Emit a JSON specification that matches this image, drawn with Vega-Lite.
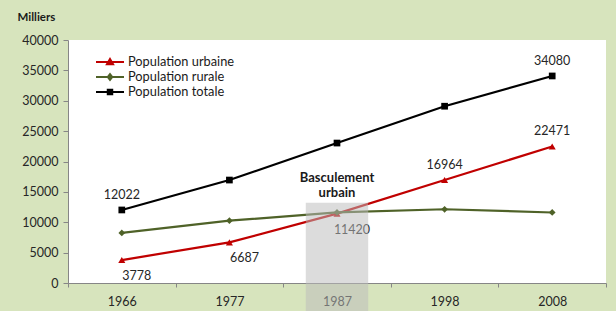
{
  "$schema": "https://vega.github.io/schema/vega-lite/v6.json",
  "width": 538,
  "height": 243,
  "autosize": "none",
  "padding": {"left": 68, "top": 40, "right": 10, "bottom": 28},
  "background": "#d7e4bd",
  "config": {
    "view": {"fill": "white", "stroke": null},
    "font": "Lato",
    "axis": {"labelFont": "Lato", "labelFontSize": 12.5, "labelColor": "#262626", "domainColor": "#868686", "tickColor": "#868686", "grid": false, "labelOverlap": false}
  },
  "datasets": {
    "pop": [
      {"year": "1966", "series": "Population urbaine", "value": 3778},
      {"year": "1977", "series": "Population urbaine", "value": 6687},
      {"year": "1987", "series": "Population urbaine", "value": 11420},
      {"year": "1998", "series": "Population urbaine", "value": 16964},
      {"year": "2008", "series": "Population urbaine", "value": 22471},
      {"year": "1966", "series": "Population rurale", "value": 8244},
      {"year": "1977", "series": "Population rurale", "value": 10261},
      {"year": "1987", "series": "Population rurale", "value": 11618},
      {"year": "1998", "series": "Population rurale", "value": 12136},
      {"year": "2008", "series": "Population rurale", "value": 11609},
      {"year": "1966", "series": "Population totale", "value": 12022},
      {"year": "1977", "series": "Population totale", "value": 16948},
      {"year": "1987", "series": "Population totale", "value": 23038},
      {"year": "1998", "series": "Population totale", "value": 29100},
      {"year": "2008", "series": "Population totale", "value": 34080}
    ],
    "zone": [
      {"year": "1987", "value": 13200, "bottom": -4700, "text": ["Basculement", "urbain"], "ty": 17300}
    ]
  },
  "encoding": {
    "x": {
      "field": "year", "type": "ordinal",
      "scale": {"paddingInner": 0, "paddingOuter": 0, "domain": ["1966", "1977", "1987", "1998", "2008"]},
      "axis": {"title": null, "labelAngle": 0, "tickBand": "extent", "tickSize": 4, "labelPadding": 8, "domainWidth": 1}
    },
    "y": {
      "field": "value", "type": "quantitative",
      "scale": {"domain": [0, 40000], "nice": false},
      "axis": {"values": [0, 5000, 10000, 15000, 20000, 25000, 30000, 35000, 40000], "format": "d", "tickSize": 5, "labelPadding": 5,
        "title": "Milliers", "titleAngle": 0, "titleAlign": "left", "titleBaseline": "middle", "titleX": -51, "titleY": -23,
        "titleFont": "Lato", "titleFontSize": 11.5, "titleFontWeight": "bold", "titleColor": "#1a1a1a"}
    }
  },
  "layer": [
    {
      "data": {"name": "pop"},
      "mark": {"type": "line", "strokeWidth": 2.2},
      "encoding": {
        "color": {
          "field": "series", "type": "nominal",
          "scale": {"domain": ["Population urbaine", "Population rurale", "Population totale"], "range": ["#c00000", "#4f6228", "#000000"]},
          "legend": {
            "title": null, "orient": "none", "legendX": 34, "legendY": 14,
            "labelFont": "Lato", "labelFontSize": 12.8, "labelColor": "#1a1a1a", "labelOffset": 10,
            "symbolSize": 196, "symbolStrokeWidth": 2, "rowPadding": 0,
            "encode": {
              "symbols": {
                "update": {
                  "shape": {"signal": "datum.value === 'Population urbaine' ? 'M-2,0H2M0,-0.44L0.44,0.32L-0.44,0.32Z' : datum.value === 'Population rurale' ? 'M-2,0H2M0,-0.4L0.32,0L0,0.4L-0.32,0Z' : 'M-2,0H2M-0.32,-0.32H0.32V0.32H-0.32Z'"},
                  "fill": {"scale": "color", "field": "value"},
                  "stroke": {"scale": "color", "field": "value"},
                  "strokeWidth": {"value": 2}
                }
              }
            }
          }
        }
      }
    },
    {
      "data": {"name": "pop"},
      "transform": [{"filter": "datum.series === 'Population urbaine'"}],
      "mark": {"type": "point", "filled": true, "opacity": 1, "size": 50, "shape": "triangle-up"},
      "encoding": {"color": {"field": "series", "type": "nominal"}}
    },
    {
      "data": {"name": "pop"},
      "transform": [{"filter": "datum.series === 'Population rurale'"}],
      "mark": {"type": "point", "filled": true, "opacity": 1, "size": 45, "shape": "diamond"},
      "encoding": {"color": {"field": "series", "type": "nominal"}}
    },
    {
      "data": {"name": "pop"},
      "transform": [{"filter": "datum.series === 'Population totale'"}],
      "mark": {"type": "point", "filled": true, "opacity": 1, "size": 45, "shape": "square"},
      "encoding": {"color": {"field": "series", "type": "nominal"}}
    },
    {
      "data": {"name": "pop"},
      "transform": [{"filter": "(datum.series === 'Population totale' && (datum.year === '1966' || datum.year === '2008')) || (datum.series === 'Population urbaine' && (datum.year === '1998' || datum.year === '2008'))"}],
      "mark": {"type": "text", "dy": -15, "fontSize": 12.5, "color": "#262626", "font": "Lato"},
      "encoding": {
        "text": {"field": "value", "type": "quantitative", "format": "d"}
      }
    },
    {
      "data": {"name": "pop"},
      "transform": [{"filter": "datum.series === 'Population urbaine' && (datum.year === '1966' || datum.year === '1977' || datum.year === '1987')"}],
      "mark": {"type": "text", "dx": 15, "dy": 16, "fontSize": 12.5, "color": "#262626", "font": "Lato"},
      "encoding": {
        "text": {"field": "value", "type": "quantitative", "format": "d"}
      }
    },
    {
      "data": {"name": "zone"},
      "mark": {"type": "text", "fontWeight": "bold", "fontSize": 13, "color": "#1a1a1a", "baseline": "middle", "lineHeight": 15, "font": "Lato"},
      "encoding": {
        "y": {"field": "ty", "type": "quantitative"},
        "text": {"field": "text"}
      }
    },
    {
      "data": {"name": "zone"},
      "mark": {"type": "bar", "color": "#bcbcbc", "opacity": 0.52, "clip": false, "width": {"band": 0.58}},
      "encoding": {
        "y2": {"field": "bottom"}
      }
    }
  ]
}
